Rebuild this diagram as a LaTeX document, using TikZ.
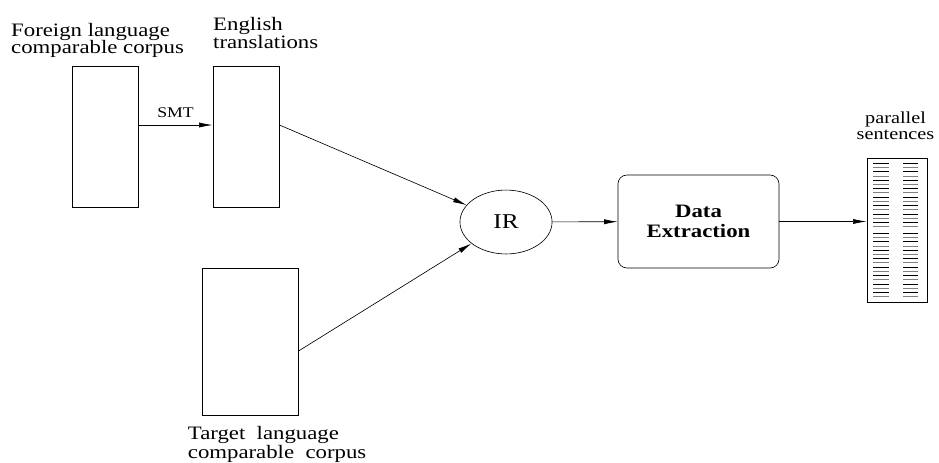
\documentclass[tikz,border=0pt]{standalone}
\usepackage{fontspec}
\setmainfont[FakeStretch=1.2]{Liberation Serif}
\usetikzlibrary{arrows.meta,shapes.geometric}

\tikzset{
  corpus/.style={draw, rectangle, line width=0.9pt},
  txtlabel/.style={anchor=north west, inner sep=0pt, align=left, font=\fontsize{18}{16.5}\selectfont},
  conn/.style={-{Latex[length=0.45cm,width=0.17cm]}, line width=0.6pt}
}

\begin{document}
\begin{tikzpicture}
        \useasboundingbox (0,0) rectangle (31.3,-15.4);

        % corpora
        \node[corpus, minimum width=2.17cm, minimum height=4.7cm] (foreign) at (3.517,-4.55) {};
        \node[corpus, minimum width=2.2cm, minimum height=4.7cm] (english) at (8.2,-4.55) {};
        \node[corpus, minimum width=3.17cm, minimum height=4.93cm] (target) at (8.35,-11.4) {};

        \node[txtlabel] (foreignlbl) at (0.367,-0.76) {Foreign language\\comparable corpus};
        \node[txtlabel] (englishlbl) at (7.1,-0.58) {English\\translations};
        \node[txtlabel, font=\fontsize{18}{15.5}\selectfont] (targetlbl) at (6.257,-14.22) {Target~~language\\comparable~~corpus};

        % processing
        \node[draw, ellipse, line width=0.6pt, minimum width=3.07cm, minimum height=2.13cm, font=\fontsize{20}{22}\selectfont] (ir) at (16.867,-7.4) {IR};
        \node[draw, rectangle, rounded corners=0.3cm, line width=0.6pt, minimum width=5.37cm, minimum height=3.1cm, align=center, font=\fontsize{18}{19.6}\selectfont\bfseries] (extract) at (23.283,-7.383) {Data\\Extraction};

        % output
        \node[corpus, minimum width=2cm, minimum height=4.77cm] (par) at (29.9,-7.683) {};
        \node[anchor=north, inner sep=0pt, align=center, font=\fontsize{16}{15}\selectfont] (parlbl) at (29.85,-3.72) {parallel\\sentences};
        \foreach \i in {0,...,15} {
            \pgfmathtruncatemacro{\gg}{mod(\i,2)*100}
            \draw[gray!\gg!black, line width=0.7pt] (29.1,{-5.443-0.1407*\i}) -- (29.633,{-5.443-0.1407*\i});
            \draw[gray!\gg!black, line width=0.7pt] (30.1,{-5.443-0.1407*\i}) -- (30.6,{-5.443-0.1407*\i});
            \draw[gray!\gg!black, line width=0.7pt] (29.1,{-7.777-0.1407*\i}) -- (29.633,{-7.777-0.1407*\i});
            \draw[gray!\gg!black, line width=0.7pt] (30.1,{-7.777-0.1407*\i}) -- (30.6,{-7.777-0.1407*\i});
        }

        % connectors
        \draw[conn] ([yshift=0.383cm]foreign.east) -- ([yshift=0.383cm]english.west)
            node[midway, above=0.25cm, inner sep=0pt, font=\fontsize{14}{15}\selectfont] (smt) {SMT};
        \draw[conn] ([yshift=0.383cm]english.east) -- (ir);
        \draw[conn] ([yshift=-0.3cm]target.east) -- (ir);
        \draw[conn] (ir) -- (extract);
        \draw[conn] (extract.east) -- (extract.east -| par.west);
\end{tikzpicture}
\end{document}
